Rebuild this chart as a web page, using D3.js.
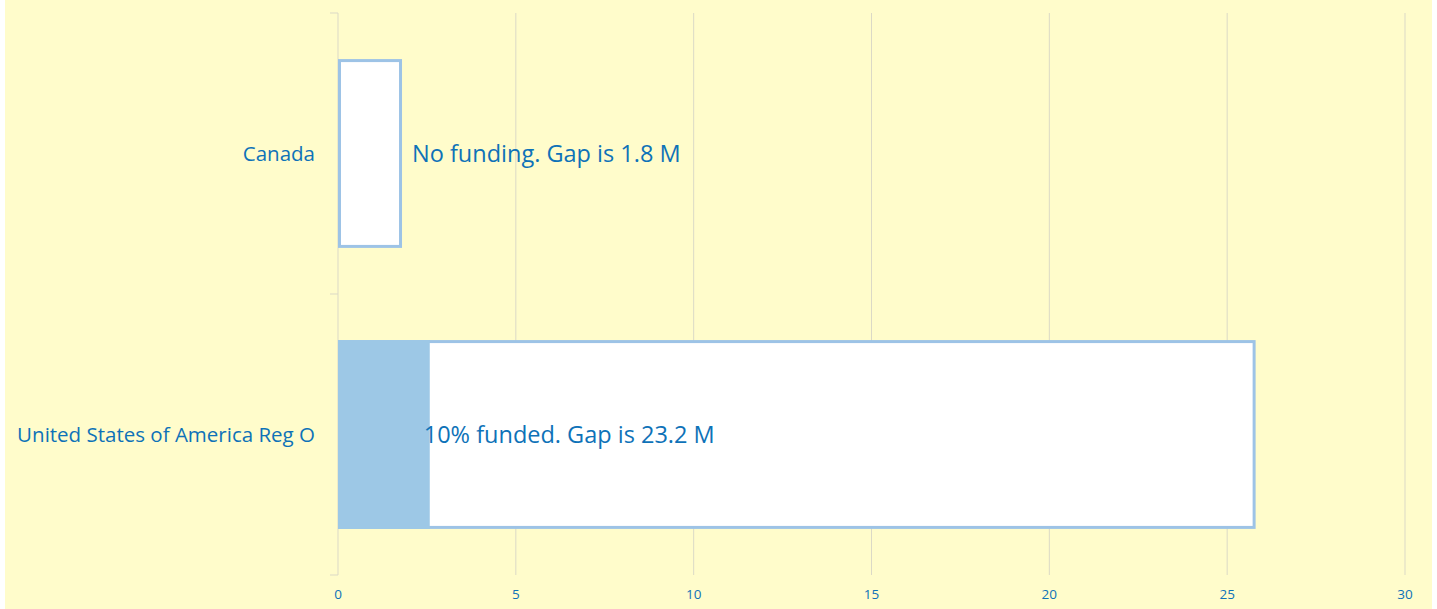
<!DOCTYPE html>
<html>
<head>
<meta charset="utf-8">
<script src="https://cdn.jsdelivr.net/npm/d3@7"></script>
<style>
  body { margin: 0; background: #fff; }
  text { font-family: "Open Sans", sans-serif; fill: #0E72B8; }
</style>
</head>
<body>
<div class="chart-box"></div>
<script>
/* Data */
let categories = ["Canada", "United States of America Reg O"];
let funded = [0, 2.58];
let totals = [1.8, 25.8];
let labels = ["No funding. Gap is 1.8 M", "10% funded. Gap is 23.2 M"];
let xTicks = [0, 5, 10, 15, 20, 25, 30];

let width = 1437, height = 609;
let margin = {left: 338, right: 32, top: 13, bottom: 34};

let svg = d3.select(".chart-box")
  .append("svg")
  .attr("width", width)
  .attr("height", height);

// chart area background (white strips at both edges)
svg.append("rect")
  .attr("x", 5).attr("y", 0)
  .attr("width", width - 10).attr("height", height)
  .attr("fill", "#FFFCCB");

let x = d3.scaleLinear()
  .domain([0, 30])
  .range([margin.left, width - margin.right]);

let y = d3.scaleBand()
  .domain(categories)
  .range([margin.top, height - margin.bottom]);

let barH = y.bandwidth() * 0.672;
let barOff = (y.bandwidth() - barH) / 2;

/* gridlines */
svg.append("g")
  .selectAll("line")
  .data(xTicks.slice(1))
  .enter()
  .append("line")
  .attr("x1", d => x(d)).attr("x2", d => x(d))
  .attr("y1", margin.top).attr("y2", height - margin.bottom)
  .attr("stroke", "#DBD9C6")
  .attr("stroke-width", 1);

/* x tick labels */
svg.append("g")
  .selectAll("text")
  .data(xTicks)
  .enter()
  .append("text")
  .attr("x", d => x(d))
  .attr("y", height - 10)
  .attr("text-anchor", "middle")
  .style("font-size", "13.5px")
  .text(d => d);

/* y axis */
let yTickPos = [margin.top, y(categories[1]), height - margin.bottom];
svg.append("line")
  .attr("x1", x(0)).attr("x2", x(0))
  .attr("y1", margin.top).attr("y2", height - margin.bottom)
  .attr("stroke", "#DBD9C6");
svg.append("g")
  .selectAll("line")
  .data(yTickPos)
  .enter()
  .append("line")
  .attr("x1", x(0) - 8).attr("x2", x(0))
  .attr("y1", d => d).attr("y2", d => d)
  .attr("stroke", "#DBD9C6");

/* category labels */
svg.append("g")
  .selectAll("text")
  .data(categories)
  .enter()
  .append("text")
  .attr("x", x(0) - 23)
  .attr("y", d => y(d) + y.bandwidth() / 2)
  .attr("dy", "0.35em")
  .attr("text-anchor", "end")
  .style("font-size", "20.5px")
  .text(d => d);

/* bars: total (gap outline) then funded part */
let rows = categories.map((c, i) => ({cat: c, funded: funded[i], total: totals[i], label: labels[i]}));

let g = svg.append("g");
g.selectAll("rect.total")
  .data(rows)
  .enter()
  .append("rect")
  .attr("class", "total")
  .attr("x", x(0) + 1.5)
  .attr("y", d => y(d.cat) + barOff + 1.5)
  .attr("width", d => x(d.total) - x(0) - 3)
  .attr("height", barH - 3)
  .attr("fill", "#fff")
  .attr("stroke", "#9DC3E6")
  .attr("stroke-width", 3);

g.selectAll("rect.funded")
  .data(rows.filter(d => d.funded > 0))
  .enter()
  .append("rect")
  .attr("class", "funded")
  .attr("x", x(0))
  .attr("y", d => y(d.cat) + barOff)
  .attr("width", d => x(d.funded) - x(0))
  .attr("height", barH)
  .attr("fill", "#9DC8E6");

g.selectAll("text.lbl")
  .data(rows)
  .enter()
  .append("text")
  .attr("class", "lbl")
  .attr("x", d => d.funded > 0 ? x(d.funded) - 6 : x(d.total) + 10)
  .attr("y", d => y(d.cat) + y.bandwidth() / 2)
  .attr("dy", "0.35em")
  .style("font-size", "23.5px")
  .text(d => d.label);
</script>
</body>
</html>
